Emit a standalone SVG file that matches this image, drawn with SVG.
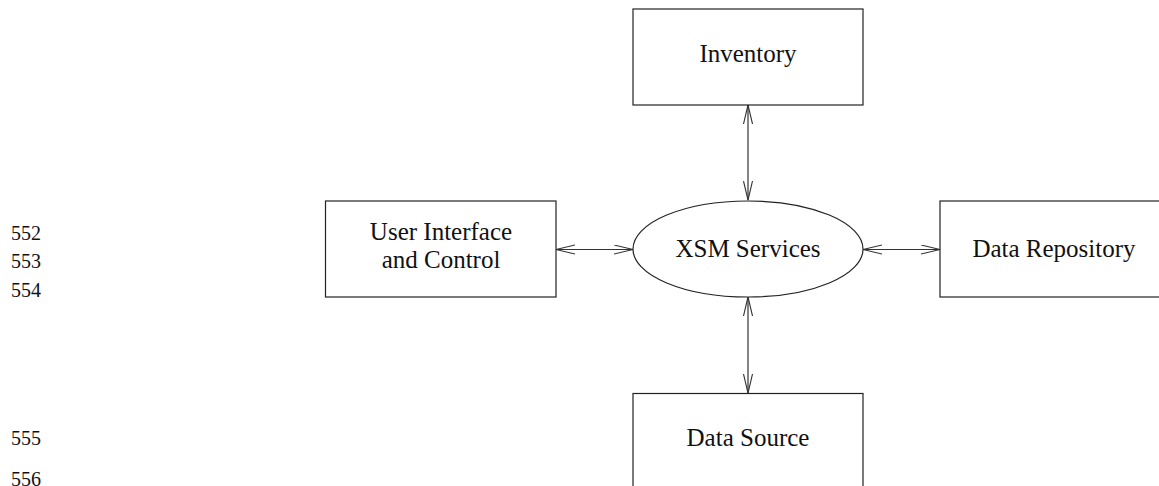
<svg xmlns="http://www.w3.org/2000/svg" width="1159" height="486" viewBox="0 0 1159 486">
  <style>
    .box { fill: #ffffff; stroke: #222222; stroke-width: 1.2; }
    .lbl { font-family: "Liberation Serif", "Times New Roman", serif; font-size: 25px; fill: #111111; text-anchor: middle; }
    .num { font-family: "Liberation Serif", "Times New Roman", serif; font-size: 20px; fill: #111111; }
    .conn { stroke: #333333; stroke-width: 1.2; fill: none; marker-start: url(#head); marker-end: url(#head); }
  </style>
  <defs>
    <marker id="head" markerUnits="userSpaceOnUse" markerWidth="22" markerHeight="12" refX="19" refY="5" orient="auto-start-reverse" viewBox="0 0 22 12">
      <path d="M0,0.5 L19,5 L0,9.5" fill="none" stroke="#333333" stroke-width="1.1"/>
    </marker>
  </defs>

  <!-- line numbers -->
  <g id="line-numbers">
    <text class="num" x="11" y="240">552</text>
    <text class="num" x="11" y="268">553</text>
    <text class="num" x="11" y="297">554</text>
    <text class="num" x="11" y="445">555</text>
    <text class="num" x="11" y="486">556</text>
  </g>

  <!-- connectors -->
  <g id="connectors">
    <line class="conn" x1="748" y1="105" x2="748" y2="200"/>
    <line class="conn" x1="556" y1="249.5" x2="633" y2="249.5"/>
    <line class="conn" x1="863" y1="249.5" x2="940" y2="249.5"/>
    <line class="conn" x1="748" y1="297" x2="748" y2="393"/>
  </g>

  <g id="inventory">
    <rect class="box" x="633" y="9" width="230" height="96"/>
    <text class="lbl" x="748" y="62">Inventory</text>
  </g>

  <g id="user-interface">
    <rect class="box" x="325.5" y="201" width="230.5" height="96"/>
    <text class="lbl" x="441" y="240">User Interface</text>
    <text class="lbl" x="441" y="268">and Control</text>
  </g>

  <g id="xsm-services">
    <ellipse class="box" cx="748" cy="249" rx="115" ry="48"/>
    <text class="lbl" x="748" y="257">XSM Services</text>
  </g>

  <g id="data-repository">
    <rect class="box" x="940" y="201" width="240" height="96"/>
    <text class="lbl" x="1054" y="257">Data Repository</text>
  </g>

  <g id="data-source">
    <rect class="box" x="633" y="393.5" width="230" height="120"/>
    <text class="lbl" x="748" y="446">Data Source</text>
  </g>
</svg>
